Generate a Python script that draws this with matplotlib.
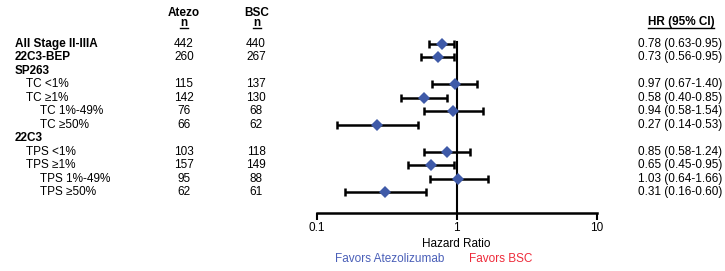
import matplotlib
matplotlib.use("Agg")
import matplotlib.pyplot as plt
from matplotlib.lines import Line2D
import matplotlib.transforms as mtransforms

plt.rcParams['font.family'] = ['Liberation Sans', 'DejaVu Sans']

# rows: label, indent level, bold header?, atezo n, bsc n, hr, lo, hi
labels = ['All Stage II-IIIA', '22C3-BEP', 'SP263', 'TC <1%', 'TC \u22651%',
          'TC 1%-49%', 'TC \u226550%', '22C3', 'TPS <1%', 'TPS \u22651%',
          'TPS 1%-49%', 'TPS \u226550%']
indent = [0, 0, 0, 1, 1, 2, 2, 0, 1, 1, 2, 2]
bold = [True, True, True, False, False, False, False, True, False, False, False, False]
n_atezo = ['442', '260', '', '115', '142', '76', '66', '', '103', '157', '95', '62']
n_bsc = ['440', '267', '', '137', '130', '68', '62', '', '118', '149', '88', '61']
hr = [0.78, 0.73, None, 0.97, 0.58, 0.94, 0.27, None, 0.85, 0.65, 1.03, 0.31]
lo = [0.63, 0.56, None, 0.67, 0.40, 0.58, 0.14, None, 0.58, 0.45, 0.64, 0.16]
hi = [0.95, 0.95, None, 1.40, 0.85, 1.54, 0.53, None, 1.24, 0.95, 1.66, 0.60]

W, H = 725, 271
fig = plt.figure(figsize=(W / 100, H / 100), dpi=100)

# axes in pixel layout: x 0.1 -> 316.7px, 10 -> 596.7px ; bottom spine at 212.5px
ax = fig.add_axes([316.7 / W, 1 - 212.5 / H, 280 / W, 212.5 / H])
row0, step = 44.0, 13.45
ax.set_xscale('log')
ax.set_xlim(0.1, 10)
ax.set_ylim((212.5 - row0) / step, -row0 / step)

blue = '#3f5aa8'
for i in range(len(labels)):
    if hr[i] is None:
        continue
    ax.errorbar(hr[i], i, xerr=[[hr[i] - lo[i]], [hi[i] - hr[i]]], fmt='none',
                ecolor='black', elinewidth=1.8, capsize=3, capthick=1.8, zorder=2)
    ax.plot(hr[i], i, marker='D', color=blue, markersize=6.5, zorder=3,
            markeredgewidth=0)

ax.plot([1, 1], [-0.15, (212.5 - row0) / step], color='black', lw=1.5, zorder=1,
        clip_on=False)

for s in ['top', 'right', 'left']:
    ax.spines[s].set_visible(False)
ax.spines['bottom'].set_linewidth(1.8)
ax.set_yticks([])
ax.set_xticks([0.1, 1, 10])
ax.set_xticklabels(['0.1', '1', '10'])
ax.minorticks_off()
ax.tick_params(axis='x', length=5, width=1.5, labelsize=8.5, pad=2)
ax.patch.set_alpha(0)

ax.set_xlabel('Hazard Ratio', fontsize=8.5, labelpad=3)

trans = mtransforms.blended_transform_factory(fig.transFigure, ax.transData)
fs = 8.5
xind = [15, 26, 40]
for i in range(len(labels)):
    ax.text(xind[indent[i]] / W, i, labels[i], transform=trans, fontsize=fs,
            fontweight='bold' if bold[i] else 'normal', va='center', ha='left')
    ax.text(184 / W, i, n_atezo[i], transform=trans, fontsize=fs, va='center', ha='center')
    ax.text(256 / W, i, n_bsc[i], transform=trans, fontsize=fs, va='center', ha='center')
    if hr[i] is not None:
        ax.text(638 / W, i, '%.2f (%.2f-%.2f)' % (hr[i], lo[i], hi[i]),
                transform=trans, fontsize=fs, va='center', ha='left')

# column headers
def ftxt(x, y, s, **kw):
    fig.text(x / W, 1 - y / H, s, fontsize=fs, va='center', **kw)

ftxt(184, 13, 'Atezo', ha='center', fontweight='bold')
ftxt(184, 23.5, 'n', ha='center', fontweight='bold')
ftxt(257, 13, 'BSC', ha='center', fontweight='bold')
ftxt(257, 23.5, 'n', ha='center', fontweight='bold')
ftxt(681, 22, 'HR (95% CI)', ha='center', fontweight='bold')

for x0, x1, y in [(180, 188, 28), (253, 261, 28), (648, 714, 27.5)]:
    fig.add_artist(Line2D([x0 / W, x1 / W], [1 - y / H, 1 - y / H],
                          color='black', lw=1.0, transform=fig.transFigure))

ftxt(390, 259, 'Favors Atezolizumab', ha='center', color='#4a5fb8')
ftxt(501, 259, 'Favors BSC', ha='center', color='#ee2a3a')

fig.savefig('out.png', dpi=100)
